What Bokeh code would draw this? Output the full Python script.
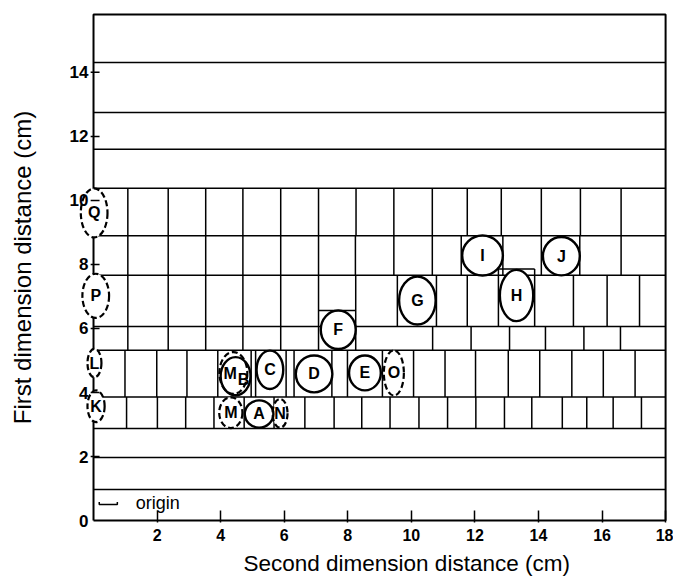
from bokeh.plotting import figure
from bokeh.models import Range1d, FixedTicker, Title
from bokeh.core.properties import value
from bokeh.embed import file_html
from bokeh.resources import INLINE

# ---------------- data (cm) ----------------
X_MAX = 18.0
Y_MAX = 15.81

x_ticks = [2, 4, 6, 8, 10, 12, 14, 16, 18]
y_ticks = [0, 2, 4, 6, 8, 10, 12, 14]

# full-width horizontal cut lines
h_lines = [0.97, 1.97, 2.88, 3.86, 5.32, 6.06, 7.66, 8.90, 10.38, 11.60, 12.75, 14.31]

# rows of cut boxes: bottom, top and column dividers
row_bottom = [8.90, 7.66, 6.06, 5.32, 3.86, 2.88]
row_top = [10.38, 8.90, 7.66, 6.06, 5.32, 3.86]
row_dividers = [
    [1.08, 2.35, 3.53, 4.70, 5.89, 7.08, 8.26, 9.45, 10.66, 11.76, 12.83, 14.09, 15.32, 16.60],
    [1.08, 2.35, 3.53, 4.70, 5.89, 7.08, 8.24, 9.45, 10.66, 11.57, 12.88, 14.09, 15.30, 16.60],
    [1.08, 2.35, 3.53, 4.70, 5.89, 7.08, 8.25, 9.56, 10.79, 11.76, 12.74, 13.88, 15.10, 16.16, 17.18],
    [1.08, 2.35, 3.53, 4.70, 5.89, 7.08, 8.25, 10.67, 11.88, 13.09, 14.22, 15.43, 16.58],
    [0.99, 1.99, 2.94, 3.91, 4.96, 5.10, 6.06, 6.31, 7.50, 7.99, 9.09, 10.07, 11.06, 12.02,
     13.05, 14.04, 15.05, 16.04, 17.04],
    [1.04, 2.01, 2.90, 3.79, 4.74, 5.68, 6.65, 7.57, 8.44, 9.33, 10.24, 11.14, 12.03, 12.93,
     13.79, 14.75, 15.52, 16.35, 17.24],
]

# extra box edges (F box top, H box raised top)
extra_x0 = [7.08, 12.74, 12.74, 13.88]
extra_x1 = [8.25, 13.88, 12.74, 13.88]
extra_y0 = [6.56, 7.86, 7.66, 7.66]
extra_y1 = [6.56, 7.86, 7.86, 7.86]

# spots
spot_name = ["Q", "P", "L", "K", "M", "B", "C", "D", "E", "O", "M", "A", "N", "F", "G", "H", "I", "J"]
spot_x = [0.02, 0.07, 0.03, 0.08, 4.40, 4.47, 5.55, 6.94, 8.54, 9.45, 4.32, 5.21, 5.87, 7.70, 10.19, 13.31, 12.24, 14.72]
spot_y = [9.61, 7.02, 4.92, 3.57, 4.61, 4.51, 4.71, 4.58, 4.61, 4.61, 3.37, 3.33, 3.35, 5.96, 6.875, 7.03, 8.28, 8.26]
spot_w = [0.84, 0.84, 0.44, 0.54, 0.88, 0.94, 0.84, 1.15, 1.00, 0.63, 0.73, 0.90, 0.47, 1.10, 1.15, 1.05, 1.28, 1.16]
spot_h = [1.53, 1.38, 0.89, 0.99, 1.31, 1.19, 1.20, 1.15, 1.09, 1.41, 0.96, 0.85, 0.90, 1.20, 1.50, 1.60, 1.25, 1.20]
spot_dashed = [True, True, True, True, True, False, False, False, False, True, True, False, True,
               False, False, False, False, False]
label_x = [0.02, 0.07, 0.03, 0.08, 4.30, 4.72, 5.55, 6.94, 8.54, 9.45, 4.32, 5.21, 5.87, 7.70, 10.19, 13.31, 12.24, 14.72]
label_y = [9.61, 7.02, 4.92, 3.57, 4.58, 4.40, 4.71, 4.58, 4.61, 4.61, 3.37, 3.33, 3.35, 5.96, 6.875, 7.03, 8.28, 8.26]

# origin marker
origin_x = [0.18, 0.18, 0.75, 0.75]
origin_y = [0.58, 0.50, 0.50, 0.58]
origin_text_x = [1.33]
origin_text_y = [0.56]

# ---------------- figure ----------------
FONT = "Liberation Sans"
X_LEFT = -0.85

p = figure(width=673, height=585,
           x_range=Range1d(X_LEFT, 18.06), y_range=Range1d(-0.06, 15.87),
           output_backend="svg", toolbar_location=None,
           min_border_left=66, min_border_right=6, min_border_top=12, min_border_bottom=63)
p.xgrid.visible = False
p.ygrid.visible = False
p.outline_line_color = None
p.background_fill_color = "white"
p.border_fill_color = "white"

# frame
p.line([0, X_MAX, X_MAX, 0, 0], [0, 0, Y_MAX, Y_MAX, 0], line_color="black", line_width=2)

# horizontal lines
p.segment(x0=[0] * len(h_lines), x1=[X_MAX] * len(h_lines), y0=h_lines, y1=h_lines,
          line_color="black", line_width=1.5)

# vertical dividers
vx, vy0, vy1 = [], [], []
for b, t, divs in zip(row_bottom, row_top, row_dividers):
    for d in divs:
        vx.append(d)
        vy0.append(b)
        vy1.append(t)
p.segment(x0=vx, x1=vx, y0=vy0, y1=vy1, line_color="black", line_width=1.5)
p.segment(x0=extra_x0, x1=extra_x1, y0=extra_y0, y1=extra_y1, line_color="black", line_width=1.5)

# spot fills
p.ellipse(x=spot_x, y=spot_y, width=spot_w, height=spot_h, fill_color="white", line_color=None)

solid = [i for i, d in enumerate(spot_dashed) if not d]
dashed = [i for i, d in enumerate(spot_dashed) if d]
p.ellipse(x=[spot_x[i] for i in solid], y=[spot_y[i] for i in solid],
          width=[spot_w[i] for i in solid], height=[spot_h[i] for i in solid],
          fill_color=None, line_color="black", line_width=2.4)
p.ellipse(x=[spot_x[i] for i in dashed], y=[spot_y[i] for i in dashed],
          width=[spot_w[i] for i in dashed], height=[spot_h[i] for i in dashed],
          fill_color=None, line_color="black", line_width=2.2, line_dash="6 3")

p.text(x=label_x, y=label_y, text=spot_name, text_align="center", text_baseline="middle",
       text_font=value(FONT), text_font_size="16px", text_font_style="bold", text_color="black")

# y tick marks crossing the x = 0 line
tick_len_out = 0.09
tick_len_in = 0.19
p.segment(x0=[-tick_len_out] * len(y_ticks[1:]), x1=[tick_len_in] * len(y_ticks[1:]),
          y0=y_ticks[1:], y1=y_ticks[1:], line_color="black", line_width=1.5)

# origin marker
p.line(origin_x, origin_y, line_color="black", line_width=1.5)
p.text(x=origin_text_x, y=origin_text_y, text=["origin"], text_align="left", text_baseline="middle",
       text_font=value(FONT), text_font_size="18px", text_color="black")

# axes
for ax in (p.xaxis[0], p.yaxis[0]):
    ax.minor_tick_line_color = None
    ax.major_label_text_font = FONT
    ax.major_label_text_font_style = "bold"
    ax.major_label_text_color = "black"
    ax.axis_label_text_font = FONT
    ax.axis_label_text_font_style = "normal"
    ax.axis_label_text_color = "black"

p.xaxis.ticker = FixedTicker(ticks=x_ticks)
p.xaxis.axis_line_color = None
p.xaxis.major_tick_line_color = "black"
p.xaxis.major_tick_line_width = 1.5
p.xaxis.major_tick_in = 12
p.xaxis.major_tick_out = 0
p.xaxis.major_label_standoff = 6
p.xaxis.major_label_text_font_size = "16px"

# x axis title, placed as a below-title so it can sit right of centre as in the original
p.add_layout(Title(text="Second dimension distance (cm)", align="left", offset=177,
                   standoff=10, text_font=FONT, text_font_size="22.5px",
                   text_font_style="normal", text_color="black"), "below")

# y axis sits at the frame edge; labels pushed right so they end just left of x = 0
p.yaxis.ticker = FixedTicker(ticks=y_ticks)
p.yaxis.axis_line_color = None
p.yaxis.major_tick_line_color = None
p.yaxis.major_tick_in = 0
p.yaxis.major_tick_out = 0
p.yaxis.major_label_standoff = -22
p.yaxis.major_label_text_font_size = "17px"
p.yaxis.axis_label = "First dimension distance (cm)"
p.yaxis.axis_label_text_font_size = "24px"
p.yaxis.axis_label_standoff = 31

open("out.html", "w").write(file_html(p, INLINE))
